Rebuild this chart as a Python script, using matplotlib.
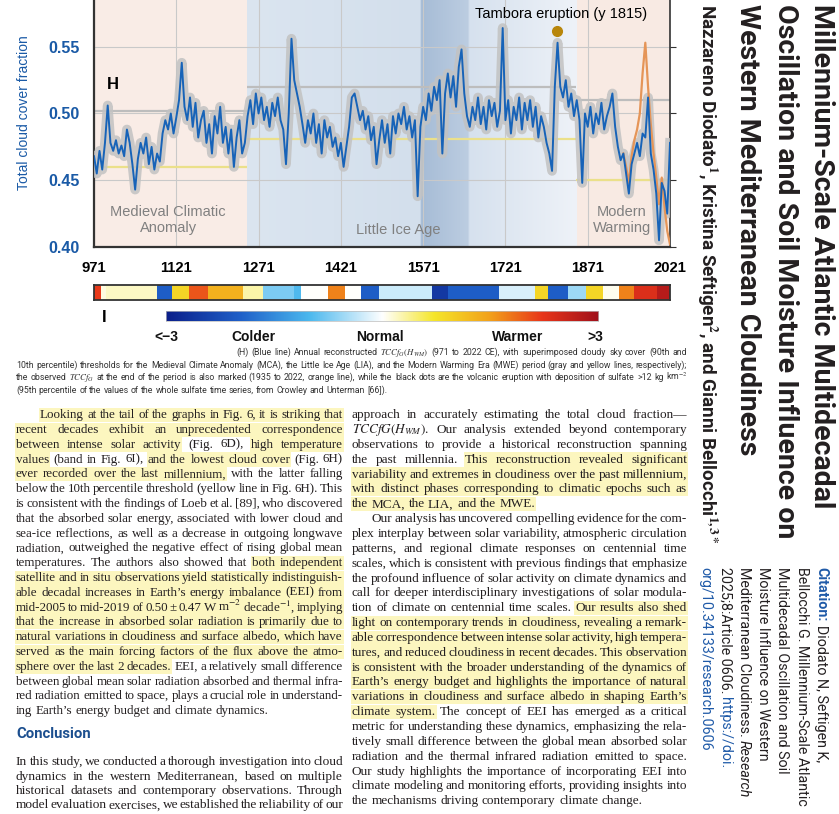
import numpy as np
import matplotlib
matplotlib.use('Agg')
import matplotlib.pyplot as plt
from matplotlib import font_manager as fm
from matplotlib.colors import LinearSegmentedColormap, to_rgb
from matplotlib.patches import Rectangle

W, H = 839, 814

# ------------------------------------------------------------------ data
tcc_start, tcc_step = 971, 5
tcc = [
    0.468, 0.455, 0.472, 0.458, 0.478, 0.506, 0.478, 0.472, 0.480, 0.470,
    0.476, 0.468, 0.488, 0.478, 0.462, 0.443, 0.466, 0.478, 0.470, 0.482,
    0.462, 0.475, 0.458, 0.470, 0.464, 0.485, 0.495, 0.488, 0.500, 0.485,
    0.497, 0.510, 0.538, 0.505, 0.495, 0.512, 0.490, 0.508, 0.482, 0.495,
    0.502, 0.478, 0.492, 0.470, 0.498, 0.485, 0.505, 0.478, 0.490, 0.470,
    0.488, 0.460, 0.482, 0.495, 0.470, 0.478, 0.498, 0.510, 0.492, 0.515,
    0.500, 0.512, 0.495, 0.505, 0.490, 0.508, 0.498, 0.512, 0.495, 0.488,
    0.462, 0.500, 0.556, 0.525, 0.515, 0.505, 0.492, 0.478, 0.495, 0.485,
    0.500, 0.478, 0.492, 0.470, 0.495, 0.482, 0.490, 0.475, 0.482, 0.468,
    0.478, 0.460, 0.475, 0.490, 0.512, 0.515, 0.505, 0.495, 0.502, 0.488,
    0.498, 0.480, 0.490, 0.462, 0.480, 0.495, 0.478, 0.492, 0.470, 0.498,
    0.485, 0.500, 0.492, 0.505, 0.488, 0.498, 0.482, 0.495, 0.438, 0.490,
    0.505, 0.495, 0.515, 0.502, 0.520, 0.510, 0.525, 0.470, 0.515, 0.530,
    0.512, 0.528, 0.505, 0.535, 0.548, 0.515, 0.498, 0.490, 0.505, 0.495,
    0.512, 0.492, 0.505, 0.488, 0.510, 0.498, 0.508, 0.490, 0.502, 0.564,
    0.495, 0.510, 0.485, 0.505, 0.495, 0.512, 0.488, 0.508, 0.495, 0.510,
    0.490, 0.505, 0.482, 0.498, 0.490, 0.478, 0.470, 0.457, 0.520, 0.553,
    0.520, 0.512, 0.525, 0.505, 0.515, 0.498, 0.510, 0.495, 0.448, 0.500,
    0.490, 0.505, 0.485, 0.500, 0.492, 0.508, 0.488, 0.498, 0.505, 0.515,
    0.490, 0.475, 0.465, 0.470, 0.455, 0.440, 0.462, 0.470, 0.478, 0.468,
    0.485, 0.482, 0.512, 0.470, 0.458, 0.440, 0.405, 0.448, 0.442, 0.425,
    0.478,
]
obs_years = [1936, 1941, 1946, 1951, 1956, 1961, 1966, 1971, 1976,
             1981, 1986, 1991, 1996, 2001, 2006, 2011, 2016, 2021]
obs = [0.470, 0.460, 0.448, 0.468, 0.480, 0.488, 0.500, 0.530, 0.553,
       0.520, 0.492, 0.470, 0.452, 0.432, 0.452, 0.430, 0.412, 0.402]

epoch_names = ['Medieval Climatic\nAnomaly', 'Little Ice Age', 'Modern\nWarming']
epoch_start = [971, 1250, 1850]
epoch_end = [1250, 1850, 2021]
p90 = [0.502, 0.520, 0.510]
p10 = [0.460, 0.481, 0.450]

tambora_year, tambora_val = 1815, 0.562

xticks = [971, 1121, 1271, 1421, 1571, 1721, 1871, 2021]
yticks = [0.40, 0.45, 0.50, 0.55]

strip_edges = [971, 983, 993, 1085, 1113, 1145, 1178, 1243, 1279, 1336, 1348,
               1397, 1429, 1457, 1490, 1587, 1616, 1709, 1774, 1798, 1835,
               1867, 1899, 1928, 1956, 1997, 2021]
strip_vals = [2.2, 0.1, 0.2, -2.0, 0.9, 2.0, 1.3, 0.3, -0.75, -1.0, 0.0,
              1.7, 0.0, -2.0, -0.3, -2.6, -2.0, -0.22, 0.9, -2.0, -0.55,
              0.9, 0.05, 1.7, 2.35, 2.75]
legend_labels = ['<\u22123', 'Colder', 'Normal', 'Warmer', '>3']

# ------------------------------------------------------------------ fonts
avail = {f.name for f in fm.fontManager.ttflist}
COND = 'Liberation Sans Narrow' if 'Liberation Sans Narrow' in avail else (
    'Roboto' if 'Roboto' in avail else 'Liberation Sans')
SANS = 'Liberation Sans'
SERIF = 'Liberation Serif'
plt.rcParams['font.family'] = [SANS, 'DejaVu Sans']
plt.rcParams['mathtext.fontset'] = 'stix'

BLUE_TXT = '#1a5aa6'
INK = '#231f20'
HL = '#fcf6bf'

fig = plt.figure(figsize=(W / 100, H / 100), dpi=100)
fig.patch.set_facecolor('white')
ov = fig.add_axes([0, 0, 1, 1])
ov.set_xlim(0, W)
ov.set_ylim(H, 0)
ov.axis('off')
ov.patch.set_visible(False)
R = fig.canvas.get_renderer()


def px_axes(x0, y0, x1, y1, **kw):
    return fig.add_axes([x0 / W, 1 - y1 / H, (x1 - x0) / W, (y1 - y0) / H], **kw)


# ------------------------------------------------------------------ main chart
ax = px_axes(94, 0, 670, 247)
ax.set_facecolor('white')
ax.axvspan(epoch_start[0], epoch_end[0], color='#f9ece6', lw=0, zorder=0)
ax.axvspan(epoch_start[2], epoch_end[2], color='#f8eae3', lw=0, zorder=0)
stops = [(1250, '#dbe5f0'), (1565, '#d3dfec'), (1567, '#a6bcd6'),
         (1652, '#bccde1'), (1655, '#d6e1ee'), (1850, '#eef2f8')]
xs = np.linspace(epoch_start[1], epoch_end[1], 601)
sx = [s[0] for s in stops]
cols = np.stack([np.interp(xs, sx, [to_rgb(s[1])[k] for s in stops]) for k in range(3)], axis=-1)
ax.imshow(cols[None, :, :], extent=[epoch_start[1], epoch_end[1], 0.40, 0.585],
          aspect='auto', zorder=0, interpolation='bilinear')

for xt in xticks:
    ax.axvline(xt, color='#c9c9c9', lw=0.8, zorder=1)
for yt in yticks[1:]:
    ax.axhline(yt, color='#c9c9c9', lw=0.8, zorder=1)

for s, e, a, b in zip(epoch_start, epoch_end, p90, p10):
    ax.hlines(a, s, e, color='#bdbdbd', lw=1.6, zorder=2)
    ax.hlines(b, s, e, color='#ebe08a', lw=1.6, zorder=2)

years = tcc_start + tcc_step * np.arange(len(tcc))
ax.plot(years, tcc, color='#c2c2c2', lw=7, alpha=0.85, zorder=3, solid_joinstyle='round')
ax.plot(obs_years, obs, color='#e59558', lw=1.6, zorder=4)
ax.plot(years, tcc, color='#1763b8', lw=1.4, zorder=5)
ax.plot([tambora_year], [tambora_val], 'o', color='#b8860b', ms=7, zorder=6)
ax.text(1823, 0.5745, 'Tambora eruption (y 1815)', fontsize=10.5, ha='center', va='center', zorder=7)

ax.text(1106, 0.4203, epoch_names[0], fontsize=10.5, color='#808080', ha='center', va='center',
        linespacing=1.2, zorder=7)
ax.text(1525, 0.4128, epoch_names[1], fontsize=10.5, color='#808080', ha='center', va='center', zorder=7)
ax.text(1933, 0.4203, epoch_names[2], fontsize=10.5, color='#808080', ha='center', va='center',
        linespacing=1.2, zorder=7)
ax.text(1006, 0.5215, 'H', fontsize=12, fontweight='bold', ha='center', va='center', zorder=7)

ax.set_xlim(971, 2021)
ax.set_ylim(0.40, 0.585)
ax.set_xticks(xticks)
ax.set_xticklabels([str(v) for v in xticks], fontsize=10.7, fontweight='bold')
ax.tick_params(axis='x', length=0, pad=10)
ax.set_yticks(yticks)
ax.set_yticklabels(['%.2f' % v for v in yticks], fontsize=11.5, fontweight='bold', color=BLUE_TXT)
ax.tick_params(axis='y', left=False, right=True, length=4, direction='out', pad=6, color='#333333')
ax.spines['top'].set_visible(False)
for sp in ['left', 'bottom']:
    ax.spines[sp].set_color('#333333')
    ax.spines[sp].set_linewidth(1.6)
ax.spines['right'].set_color('#333333')
ax.spines['right'].set_linewidth(1.2)

ov.text(24, 113, 'Total cloud cover fraction', rotation=90, fontsize=10, color=BLUE_TXT,
        ha='center', va='center')

# ------------------------------------------------------------------ colour strip + legend
cmap = LinearSegmentedColormap.from_list('tc', [
    (0.0, '#0b1f8a'), (0.17, '#1f5fc8'), (0.33, '#4bb8ee'), (0.5, '#ffffff'),
    (0.62, '#f5e62a'), (0.75, '#f2a01a'), (0.87, '#e8361a'), (1.0, '#a0101a')])
sax = px_axes(94, 285, 670, 300)
sax.pcolormesh(strip_edges, [0, 1], np.array([strip_vals]), cmap=cmap, vmin=-3, vmax=3)
sax.set_xlim(971, 2021)
sax.set_xticks([])
sax.set_yticks([])
for sp in sax.spines.values():
    sp.set_color('#333333')
    sp.set_linewidth(1.3)

lax = px_axes(166, 311, 598, 321)
lax.imshow(np.linspace(-3, 3, 256)[None, :], cmap=cmap, aspect='auto', extent=[-3, 3, 0, 1])
lax.set_xticks([])
lax.set_yticks([])
for sp in lax.spines.values():
    sp.set_color('#bbbbbb')
    sp.set_linewidth(0.5)
for lab, xc in zip(legend_labels, [166, 253, 380, 518, 595]):
    ov.text(xc, 337, lab, fontsize=10, fontweight='bold', ha='center', va='center', color='#111111')
ov.text(104, 318, 'I', fontsize=12, fontweight='bold', ha='center', va='center')


# ------------------------------------------------------------------ text helpers
def parse(line):
    toks, on = [], False
    for w in line.split(' '):
        if not w:
            continue
        if w.startswith('\u00ab'):
            on = True
            w = w[1:]
        hl = on
        if w.endswith('\u00bb'):
            on = False
            w = w[:-1]
        toks.append((w, hl))
    return toks


def width(s, fs, family, weight='normal'):
    t = ov.text(0, 0, s, fontsize=fs, family=family, fontweight=weight)
    w = t.get_window_extent(R).width
    t.remove()
    return w


def space_w(fs, family):
    return width('a a', fs, family) - width('aa', fs, family)


def natural(line, fs, family):
    toks = parse(line)
    return sum(width(w, fs, family) for w, _ in toks) + (len(toks) - 1) * space_w(fs, family)


def set_line(x0, x1, yc, line, fs, justify, family, color, lh):
    toks = parse(line)
    for _ in range(6):
        em = fs * 100 / 72
        sp = space_w(fs, family)
        texts = [ov.text(0, yc + 0.24 * em, w, fontsize=fs, family=family, color=color,
                         va='baseline', ha='left', zorder=3) for w, _ in toks]
        ws = [t.get_window_extent(R).width for t in texts]
        n = len(toks)
        gap = (x1 - x0 - sum(ws)) / (n - 1) if (justify and n > 1) else sp
        if gap >= 0.4 * sp:
            break
        for t in texts:
            t.remove()
        fs *= 0.98
    x = x0
    run = None
    for (w, hl), t, wd in zip(toks, texts, ws):
        t.set_x(x)
        if hl:
            if run is None:
                run = [x, x + wd]
            else:
                run[1] = x + wd
        elif run is not None:
            ov.add_patch(Rectangle((run[0] - 1, yc - lh / 2), run[1] - run[0] + 2, lh,
                                   color=HL, lw=0, zorder=1))
            run = None
        x += wd + gap
    if run is not None:
        ov.add_patch(Rectangle((run[0] - 1, yc - lh / 2), run[1] - run[0] + 2, lh,
                               color=HL, lw=0, zorder=1))


def block(lines, x0, x1, ys, family, color, lh, fs0=10.0):
    ratios = []
    for ind, line, j in lines:
        if j:
            ratios.append((x1 - x0 - ind) / natural(line, fs0, family))
    fs = fs0 * float(np.median(ratios))
    for (ind, line, j), y in zip(lines, ys):
        set_line(x0 + ind, x1, y, line, fs, j, family, color, lh)
    return fs


# ------------------------------------------------------------------ caption
caption = [
    (220, '(H) (Blue line) Annual reconstructed $TCCf_G(H_{WM})$ (971 to 2022 CE), with superimposed cloudy sky cover (90th and', True),
    (0, '10th percentile) thresholds for the Medieval Climate Anomaly (MCA), the Little Ice Age (LIA), and the Modern Warming Era (MWE) period (gray and yellow lines, respectively);', True),
    (0, 'the observed $TCCf_G$ at the end of the period is also marked (1935 to 2022, orange line), while the black dots are the volcanic eruption with deposition of sulfate >12 kg km$^{-2}$', True),
    (0, '(95th percentile of the values of the whole sulfate time series, from Crowley and Unterman [66]).', False),
]
block(caption, 16, 687, [353, 365.5, 378, 390.5], COND, '#333333', 12)

# ------------------------------------------------------------------ body text
left = [
    (24, '\u00abLooking at the tail of the graphs in Fig. 6, it is striking that\u00bb', True),
    (0, '\u00abrecent decades exhibit an unprecedented correspondence\u00bb', True),
    (0, '\u00abbetween intense solar activity\u00bb (Fig. 6D), \u00abhigh temperature\u00bb', True),
    (0, '\u00abvalues\u00bb (band in Fig. 6I), \u00aband the lowest cloud cover\u00bb (Fig. 6H)', True),
    (0, '\u00abever recorded over the last millennium,\u00bb with the latter falling', True),
    (0, 'below the 10th percentile threshold (yellow line in Fig. 6H). This', True),
    (0, 'is consistent with the findings of Loeb et al. [89], who discovered', True),
    (0, 'that the absorbed solar energy, associated with lower cloud and', True),
    (0, 'sea-ice reflections, as well as a decrease in outgoing longwave', True),
    (0, 'radiation, outweighed the negative effect of rising global mean', True),
    (0, 'temperatures. The authors also showed that \u00abboth independent\u00bb', True),
    (0, '\u00absatellite and in situ observations yield statistically indistinguish-\u00bb', True),
    (0, '\u00abable decadal increases in Earth\u2019s energy imbalance (EEI) from\u00bb', True),
    (0, '\u00abmid-2005 to mid-2019 of 0.50 \u00b1 0.47 W m$^{-2}$ decade$^{-1}$, implying\u00bb', True),
    (0, '\u00abthat the increase in absorbed solar radiation is primarily due to\u00bb', True),
    (0, '\u00abnatural variations in cloudiness and surface albedo, which have\u00bb', True),
    (0, '\u00abserved as the main forcing factors of the flux above the atmo-\u00bb', True),
    (0, '\u00absphere over the last 2 decades.\u00bb EEI, a relatively small difference', True),
    (0, 'between global mean solar radiation absorbed and thermal infra-', True),
    (0, 'red radiation emitted to space, plays a crucial role in understand-', True),
    (0, 'ing Earth\u2019s energy budget and climate dynamics.', False),
]
concl = [
    (0, 'In this study, we conducted a thorough investigation into cloud', True),
    (0, 'dynamics in the western Mediterranean, based on multiple', True),
    (0, 'historical datasets and contemporary observations. Through', True),
    (0, 'model evaluation exercises, we established the reliability of our', True),
]
right = [
    (0, 'approach in accurately estimating the total cloud fraction\u2014', True),
    (0, '$TCCfG(H_{WM})$. Our analysis extended beyond contemporary', True),
    (0, 'observations to provide a historical reconstruction spanning', True),
    (0, 'the past millennia. \u00abThis reconstruction revealed significant\u00bb', True),
    (0, '\u00abvariability and extremes in cloudiness over the past millennium,\u00bb', True),
    (0, '\u00abwith distinct phases corresponding to climatic epochs such as\u00bb', True),
    (0, '\u00abthe MCA, the LIA, and the MWE.\u00bb', False),
    (20, 'Our analysis has uncovered compelling evidence for the com-', True),
    (0, 'plex interplay between solar variability, atmospheric circulation', True),
    (0, 'patterns, and regional climate responses on centennial time', True),
    (0, 'scales, which is consistent with previous findings that emphasize', True),
    (0, 'the profound influence of solar activity on climate dynamics and', True),
    (0, 'call for deeper interdisciplinary investigations of solar modula-', True),
    (0, 'tion of climate on centennial time scales. \u00abOur results also shed\u00bb', True),
    (0, '\u00ablight on contemporary trends in cloudiness, revealing a remark-\u00bb', True),
    (0, '\u00abable correspondence between intense solar activity, high tempera-\u00bb', True),
    (0, '\u00abtures, and reduced cloudiness in recent decades. This observation\u00bb', True),
    (0, '\u00abis consistent with the broader understanding of the dynamics of\u00bb', True),
    (0, '\u00abEarth\u2019s energy budget and highlights the importance of natural\u00bb', True),
    (0, '\u00abvariations in cloudiness and surface albedo in shaping Earth\u2019s\u00bb', True),
    (0, '\u00abclimate system.\u00bb The concept of EEI has emerged as a critical', True),
    (0, 'metric for understanding these dynamics, emphasizing the rela-', True),
    (0, 'tively small difference between the global mean absorbed solar', True),
    (0, 'radiation and the thermal infrared radiation emitted to space.', True),
    (0, 'Our study highlights the importance of incorporating EEI into', True),
    (0, 'climate modeling and monitoring efforts, providing insights into', True),
    (0, 'the mechanisms driving contemporary climate change.', False),
]
block(left, 16, 343, [415 + i * 14.8 for i in range(len(left))], SERIF, INK, 14.4)
block(concl, 16, 343, [762 + i * 14.4 for i in range(len(concl))], SERIF, INK, 14.4)
block(right, 352, 687, [415 + i * 14.85 for i in range(len(right))], SERIF, INK, 14.4)

cfs = 10 * 75 / width('Conclusion', 10, COND, 'bold')
ov.text(16, 734, 'Conclusion', fontsize=cfs, family=COND, fontweight='bold', color='#1c4f8f',
        ha='left', va='center')


# ------------------------------------------------------------------ rotated title block
def vlen(s, fs, family, weight='normal', style='normal'):
    t = ov.text(0, 0, s, fontsize=fs, family=family, fontweight=weight, fontstyle=style, rotation=-90)
    h = t.get_window_extent(R).height
    t.remove()
    return h


def rot_line(xc, ytop, segs, fs, family):
    y = ytop
    gap = vlen('a a', fs, family) - vlen('aa', fs, family)
    for s, kw in segs:
        t = ov.text(xc, y, s, fontsize=fs, family=family, rotation=-90, ha='center', va='top', **kw)
        y += t.get_window_extent(R).height + gap


title = ['Millennium-Scale Atlantic Multidecadal',
         'Oscillation and Soil Moisture Influence on',
         'Western Mediterranean Cloudiness']
title_x = [822, 785, 747]
title_len = [502, 542, 447]
tfs = float(np.mean([10 * L / vlen(s, 10, COND, 'bold') for s, L in zip(title, title_len)]))
for s, xc in zip(title, title_x):
    rot_line(xc, 4, [(s, dict(fontweight='bold', color=INK))], tfs, COND)

authors = 'Nazzareno Diodato$^{\\mathbf{1}}$, Kristina Seftigen$^{\\mathbf{2}}$, and Gianni Bellocchi$^{\\mathbf{1,3*}}$'
afs = 10 * 540 / vlen(authors, 10, COND, 'bold')
rot_line(707, 4, [(authors, dict(fontweight='bold', color=INK))], afs, COND)

cit_fs = 10 * 233 / vlen('Mediterranean Cloudiness. Research', 10, COND)
CB = '#1f5aa8'
citation = [
    (821, [('Citation:', dict(fontweight='bold', color=CB)), ('Diodato N, Seftigen K,', dict(color=INK))]),
    (802, [('Bellocchi G. Millennium-Scale Atlantic', dict(color=INK))]),
    (782, [('Multidecadal Oscillation and Soil', dict(color=INK))]),
    (763, [('Moisture Influence on Western', dict(color=INK))]),
    (744, [('Mediterranean Cloudiness.', dict(color=INK)), ('Research', dict(color=INK, fontstyle='italic'))]),
    (725, [('2025;8:Article 0606.', dict(color=INK)), ('https://doi.', dict(color=CB))]),
    (705, [('org/10.34133/research.0606', dict(color=CB))]),
]
for xc, segs in citation:
    rot_line(xc, 567, segs, cit_fs, COND)

fig.savefig('out.png', dpi=100)
